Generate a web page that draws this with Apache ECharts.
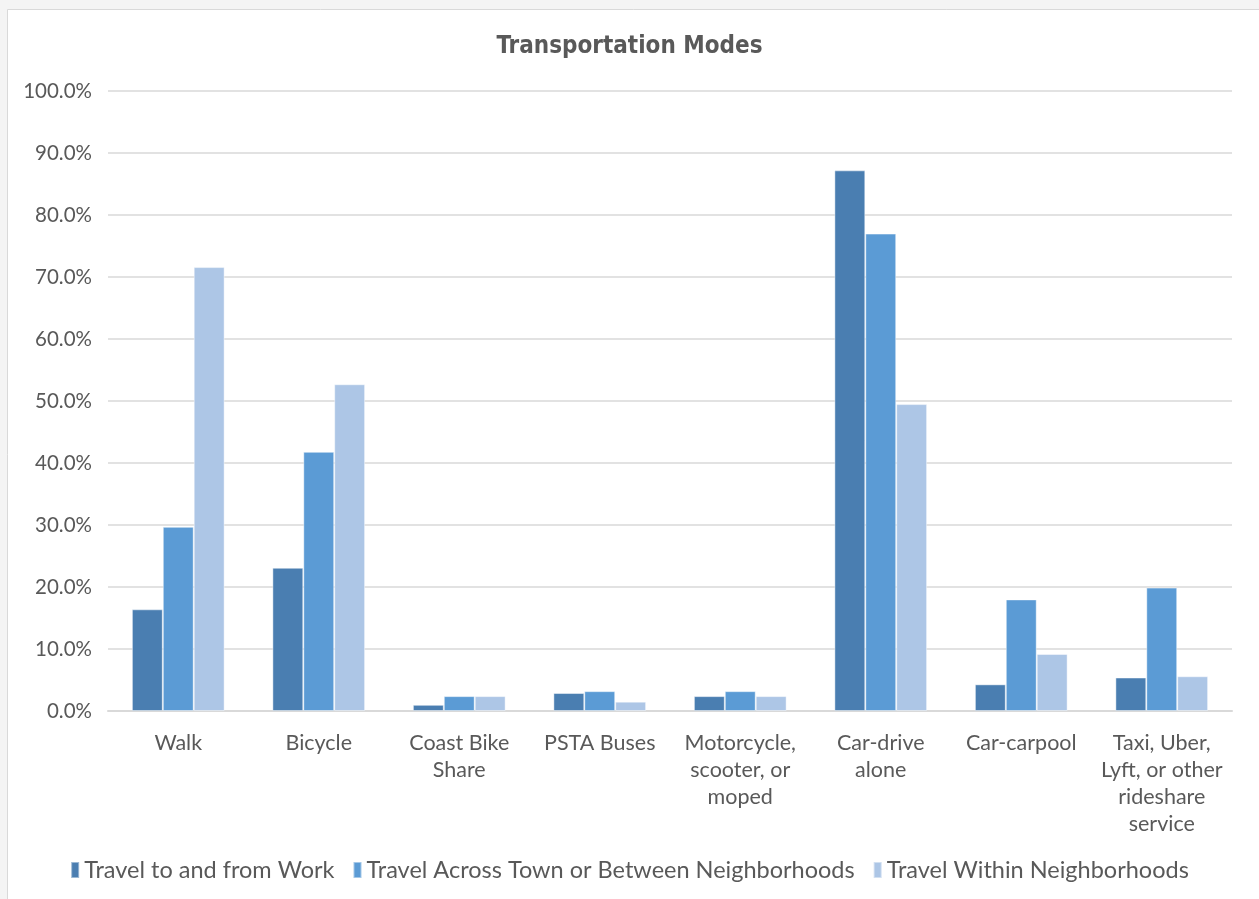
<!DOCTYPE html>
<html>
<head>
<meta charset="utf-8">
<script src="https://cdn.jsdelivr.net/npm/echarts@6/dist/echarts.min.js"></script>
<style>
  html, body { margin: 0; padding: 0; background: #f4f4f4; }
  #chart { width: 1259px; height: 899px; }
</style>
</head>
<body>
<div id="chart"></div>
<script>
var categories = ['Walk', 'Bicycle', 'Coast Bike\nShare', 'PSTA Buses', 'Motorcycle,\nscooter, or\nmoped', 'Car-drive\nalone', 'Car-carpool', 'Taxi, Uber,\nLyft, or other\nrideshare\nservice'];
var seriesNames = ['Travel to and from Work', 'Travel Across Town or Between Neighborhoods', 'Travel Within Neighborhoods'];
var workData = [16.4, 23.1, 1.0, 2.9, 2.4, 87.2, 4.3, 5.4];
var acrossData = [29.7, 41.8, 2.4, 3.2, 3.2, 77.0, 18.0, 19.9];
var withinData = [71.6, 52.7, 2.4, 1.5, 2.4, 49.5, 9.2, 5.6];
var colors = ['#4a7eb1', '#5b9bd5', '#adc6e6'];

var chart = echarts.init(document.getElementById('chart'));

function makeSeries(name, data) {
  return {
    name: name,
    type: 'bar',
    data: data,
    barGap: '0%',
    barCategoryGap: '34%',
    itemStyle: { borderColor: 'rgba(255,255,255,0.45)', borderWidth: 1 }
  };
}

var option = {
  backgroundColor: 'transparent',
  color: colors,
  graphic: [{
    type: 'rect',
    z: -10,
    shape: { x: 7.5, y: 9.5, width: 1260, height: 890 },
    style: { fill: '#ffffff', stroke: '#d9d9d9', lineWidth: 1 }
  }],
  title: {
    text: 'Transportation Modes',
    left: 'center',
    top: 30,
    textStyle: {
      fontFamily: '"DejaVu Sans Condensed", "DejaVu Sans", sans-serif',
      fontWeight: 'bold',
      fontSize: 24,
      color: '#595959'
    }
  },
  legend: {
    bottom: 12,
    left: 'center',
    itemWidth: 8,
    itemHeight: 16,
    itemGap: 18,
    icon: 'rect',
    textStyle: { fontFamily: 'Lato', fontSize: 23.5, color: '#595959', padding: [0, 0, 0, 0] },
    data: seriesNames
  },
  grid: { left: 108, right: 27, top: 91, bottom: 188 },
  xAxis: {
    type: 'category',
    data: categories,
    axisTick: { show: false },
    axisLine: { lineStyle: { color: '#d9d9d9', width: 2 } },
    axisLabel: {
      interval: 0,
      fontFamily: 'Lato',
      fontSize: 21.5,
      color: '#595959',
      lineHeight: 27,
      margin: 19
    }
  },
  yAxis: {
    type: 'value',
    min: 0,
    max: 100,
    interval: 10,
    axisLine: { show: false },
    axisTick: { show: false },
    splitLine: { lineStyle: { color: '#d9d9d9', width: 1.5 } },
    axisLabel: {
      fontFamily: 'Lato',
      fontSize: 20.5,
      color: '#595959',
      margin: 16,
      formatter: function (v) { return v.toFixed(1) + '%'; }
    }
  },
  series: [
    makeSeries(seriesNames[0], workData),
    makeSeries(seriesNames[1], acrossData),
    makeSeries(seriesNames[2], withinData)
  ]
};

chart.setOption(option);
</script>
</body>
</html>
